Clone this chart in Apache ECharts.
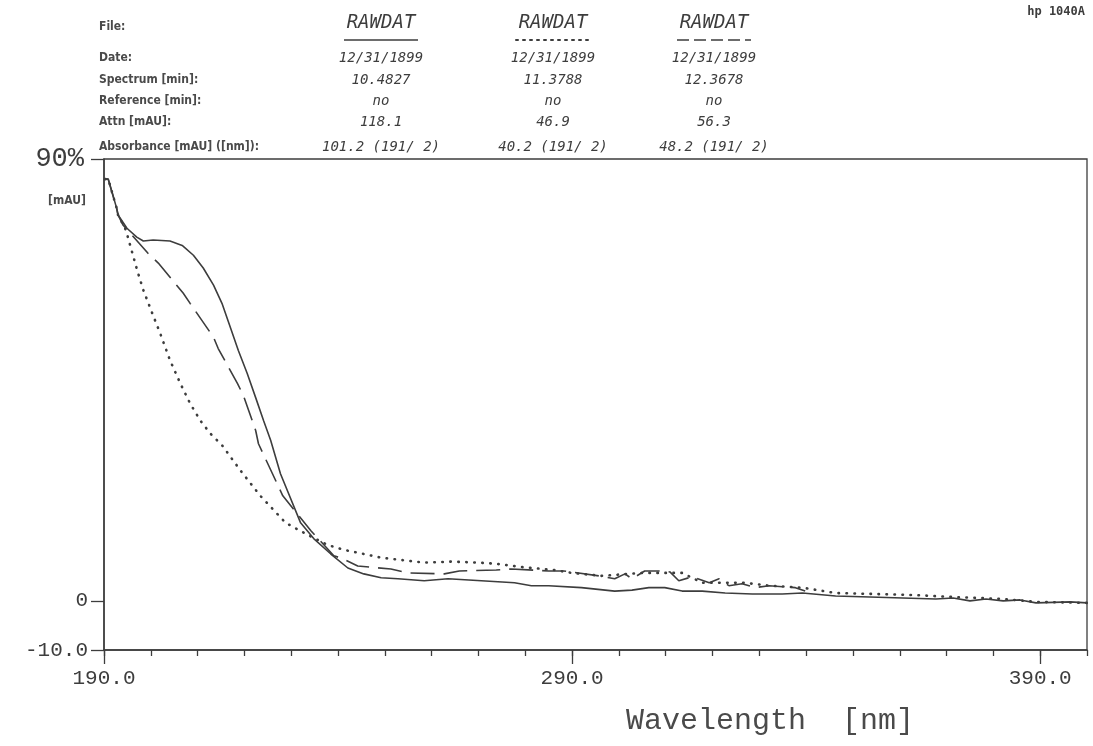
<!DOCTYPE html>
<html>
<head>
<meta charset="utf-8">
<script src="https://cdn.jsdelivr.net/npm/echarts@6/dist/echarts.min.js"></script>
<style>html,body{margin:0;padding:0;background:#fff}#c{width:1093px;height:746px}</style>
</head>
<body>
<div id="c"></div>
<script>
// ---- header table ----
const rowLabels = ["File:", "Date:", "Spectrum [min]:", "Reference [min]:", "Attn [mAU]:", "Absorbance [mAU] ([nm]):"];
const col1 = ["RAWDAT", "12/31/1899", "10.4827", "no", "118.1", "101.2 (191/ 2)"];
const col2 = ["RAWDAT", "12/31/1899", "11.3788", "no", "46.9", "40.2 (191/ 2)"];
const col3 = ["RAWDAT", "12/31/1899", "12.3678", "no", "56.3", "48.2 (191/ 2)"];
const instrument = "hp 1040A";
const yUnit = "[mAU]";
const xTitle = "Wavelength  [nm]";

// ---- axis ticks ----
const xMajorTicks = [190, 290, 390];
const yTicks = [-10, 0, 90];

// ---- series 1 (10.4827 min, solid) ----
const s1Nm  = [190.2,190.9,192.7,193.0,194.9,197.0,198.4,200.5,204.1,206.7,209.1,211.2,213.4,215.2,217.0,218.7,220.6,222.4,224.1,225.6,227.7,232.0,234.8,238.4,242.1,245.5,249.2,252.8,258.4,263.5,270.6,277.7,281.3,285.0,292.0,299.1,302.8,306.4,309.8,313.5,317.8,322.7,328.5,334.9,339.2,346.3,353.6,360.6,367.7,371.4,375.0,378.4,382.1,385.7,389.1,396.4,400.0];
const s1Val = [85.9,85.9,80.0,78.6,75.9,74.1,73.3,73.5,73.3,72.4,70.4,67.8,64.3,60.6,55.7,51.0,46.3,41.4,36.7,32.7,25.9,15.9,12.7,9.6,6.7,5.5,4.7,4.5,4.1,4.5,4.1,3.7,3.1,3.1,2.7,2.0,2.2,2.7,2.7,2.0,2.0,1.6,1.4,1.4,1.6,1.0,0.8,0.6,0.4,0.6,0.0,0.4,0.0,0.2,-0.4,-0.2,-0.4];

// ---- series 2 (11.3788 min, dotted) ----
const s2Nm  = [190.2,190.9,192.7,193.0,194.5,195.1,197.1,198.4,200.3,202.0,204.1,206.3,208.4,210.6,212.7,215.3,219.2,223.4,228.8,234.2,237.8,241.2,245.3,249.2,252.8,258.4,264.2,270.0,273.4,279.2,286.2,289.9,296.3,304.9,313.5,317.8,326.8,332.1,339.2,346.3,354.8,362.8,371.4,382.1,389.1,400.0];
const s2Val = [85.9,85.9,80.0,78.6,75.9,74.1,67.3,63.3,58.6,54.5,49.0,44.3,40.2,36.7,34.1,31.6,26.5,21.4,15.9,13.1,11.4,10.4,9.6,8.8,8.4,7.8,8.0,7.8,7.6,6.9,6.3,5.7,5.1,5.7,5.7,3.7,3.7,3.1,2.7,1.6,1.4,1.2,0.8,0.4,-0.2,-0.4];

// ---- series 3 (12.3678 min, dashed) ----
const s3Nm  = [190.2,190.9,192.7,193.0,194.1,194.5,199.4,201.6,206.9,208.4,213.4,214.4,218.5,219.8,222.4,223.0,228.2,234.2,239.1,241.0,244.2,251.3,255.0,262.7,265.9,273.8,277.0,285.0,288.2,295.7,299.1,301.3,302.8,305.5,308.5,310.9,312.8,315.6,319.3,321.4,323.5,326.3,329.1,332.1,337.7,339.8];
const s3Val = [85.9,85.9,80.0,78.6,76.5,76.1,70.8,68.8,62.7,60.6,53.7,51.4,44.3,41.8,34.7,32.0,21.4,14.3,9.2,8.6,7.1,6.5,5.7,5.5,6.1,6.3,6.5,6.1,6.1,5.1,4.5,5.5,4.5,6.1,6.1,5.9,4.1,4.9,3.7,4.5,3.1,3.5,2.7,3.1,2.7,2.0];

const ink = '#3d3d3d';
const zip = (a, b) => a.map((v, i) => [v, b[i]]);

const graphics = [];
const rowY = [27, 58, 80, 101, 122, 147];
const colX = [381, 553, 714];
rowLabels.forEach((t, i) => graphics.push({type:'text', x:99, y:rowY[i], style:{text:t, font:'bold 12px "DejaVu Sans Condensed"', fill:'#4a4a4a', verticalAlign:'middle'}}));
[col1, col2, col3].forEach((col, c) => {
  col.forEach((t, i) => {
    const big = i === 0;
    graphics.push({type:'text', x: colX[c], y: rowY[i] - (big ? 4 : 0), style:{text:t, font: big ? 'italic 19px "DejaVu Sans Mono"' : 'italic 14px "DejaVu Sans Mono"', fill:ink, align:'center', verticalAlign:'middle'}});
  });
});
// legend underlines
const dashes = [null, [2, 5], [12, 5]];
colX.forEach((x, c) => graphics.push({type:'line', shape:{x1:x-37, y1:40, x2:x+37, y2:40}, style:{stroke:ink, lineWidth: c===1 ? 2 : 1.3, lineDash: dashes[c], lineCap: c===1?'round':'butt'}}));
graphics.push({type:'text', x:1085, y:12, style:{text:instrument, font:'bold 12px "DejaVu Sans Mono"', fill:ink, align:'right', verticalAlign:'middle'}});
graphics.push({type:'text', x:67, y:201, style:{text:yUnit, font:'bold 12px "DejaVu Sans Condensed"', fill:'#4a4a4a', align:'center', verticalAlign:'middle'}});
graphics.push({type:'text', x:770, y:721, style:{text:xTitle, font:'30px "Liberation Mono"', fill:'#4a4a4a', align:'center', verticalAlign:'middle'}});

const chart = echarts.init(document.getElementById('c'), null, {renderer:'canvas'});
chart.setOption({
  backgroundColor:'#fff',
  animation:false,
  grid:{left:104, right:6, top:159, bottom:96, show:true, borderColor:ink, borderWidth:1.3, backgroundColor:'transparent'},
  xAxis:[
    {type:'value', min:190, max:400, interval:10, position:'bottom',
     axisLine:{show:true, onZero:false, lineStyle:{color:ink, width:1.5}},
     axisTick:{show:true, length:6, lineStyle:{color:ink, width:1.3}},
     axisLabel:{show:false}, splitLine:{show:false}},
    {type:'value', min:190, max:400, position:'bottom',
     axisLine:{show:false, onZero:false},
     axisTick:{show:true, length:14, customValues:xMajorTicks, lineStyle:{color:ink, width:1.3}},
     axisLabel:{show:true, customValues:xMajorTicks, formatter:v=>v.toFixed(1), margin:18, color:ink, fontSize:21, fontFamily:'Liberation Mono'},
     splitLine:{show:false}}
  ],
  yAxis:{type:'value', min:-10, max:90,
     axisLine:{show:true, onZero:false, lineStyle:{color:ink, width:1.5}},
     axisTick:{show:true, length:13, customValues:yTicks, lineStyle:{color:ink, width:1.3}},
     axisLabel:{show:true, customValues:yTicks, margin:16, color:ink, fontFamily:'Liberation Mono',
       formatter:v=> v===90 ? '{b|90%}' : (v===0 ? '0' : v.toFixed(1)),
       fontSize:21, rich:{b:{fontSize:27, fontFamily:'Liberation Mono', color:ink, padding:[0,4,0,0]}}},
     splitLine:{show:false}},
  graphic: graphics,
  series:[
    {name:'10.4827', type:'line', xAxisIndex:0, data:zip(s1Nm, s1Val), showSymbol:false, lineStyle:{color:ink, width:1.6}, z:3},
    {name:'11.3788', type:'line', xAxisIndex:0, data:zip(s2Nm, s2Val), showSymbol:false, lineStyle:{color:ink, width:2.6, type:[0.5, 7.5], cap:'round'}, z:2},
    {name:'12.3678', type:'line', xAxisIndex:0, data:zip(s3Nm, s3Val), showSymbol:false, lineStyle:{color:ink, width:1.6, type:[24, 9]}, z:2}
  ]
});
</script>
</body>
</html>
